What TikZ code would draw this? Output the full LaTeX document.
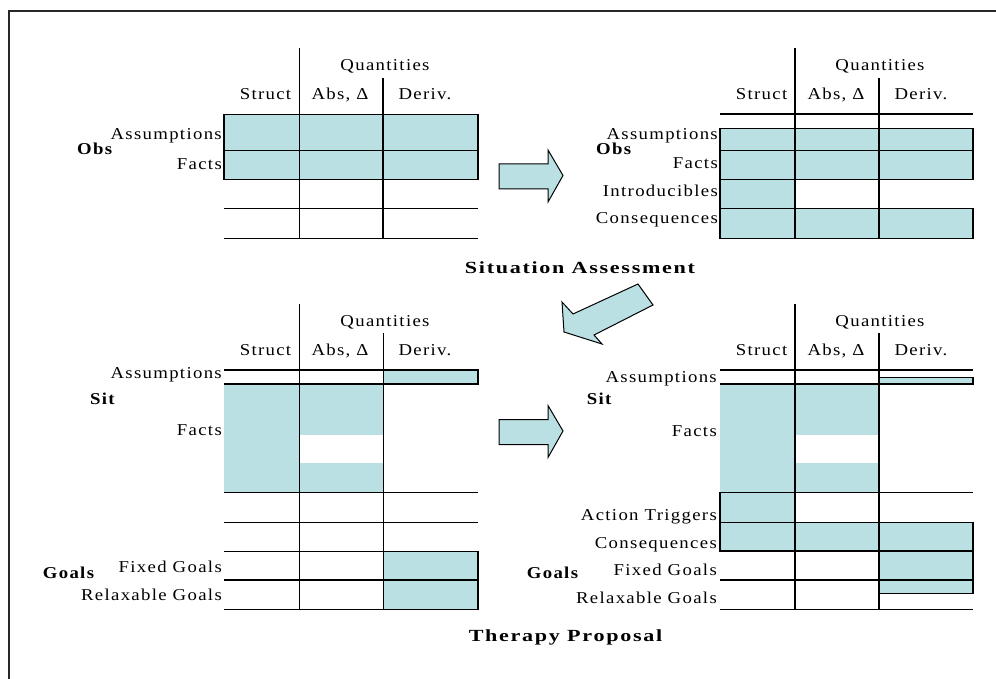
\documentclass[tikz,border=0pt]{standalone}
\usepackage{fontspec}
\setmainfont[FakeStretch=1.13, LetterSpace=8]{Liberation Serif}
\newfontfamily\titlefont[FakeStretch=1.3, LetterSpace=10]{Liberation Serif}
\definecolor{cellblue}{RGB}{187,224,227}
\definecolor{framegray}{RGB}{40,40,40}

\tikzset{
  grid/.style={line width=1.1pt, draw=black},
  cell/.style={fill=cellblue, draw=black, line width=1.1pt},
  bare/.style={fill=cellblue, draw=none},
  blockarrow/.style={fill=cellblue, draw=black, line width=1pt, line join=miter},
  rowlabel/.style={anchor=base east, inner sep=0pt, font=\fontsize{16.6}{19}\selectfont},
  collabel/.style={anchor=base, inner sep=0pt, font=\fontsize{16.6}{19}\selectfont},
  grouplabel/.style={anchor=base west, inner sep=0pt, font=\fontsize{16.6}{19}\selectfont\bfseries},
  stagetitle/.style={anchor=base, inner sep=0pt, font=\fontsize{17}{20}\selectfont\titlefont\bfseries},
}

\begin{document}
\begin{tikzpicture}[x=1pt, y=-1pt]
\useasboundingbox (0,0) rectangle (996,679);

% outer frame (top and left edges)
\draw[framegray, line width=2pt] (9.3,679) -- (9.3,11.3) -- (996,11.3);

% ---------- Observations, before assessment ----------
\draw[cell] (224,114.3) rectangle (478,179.3);
\draw[grid] (224,150.3) -- (478,150.3);
\draw[grid] (224,208.3) -- (478,208.3);
\draw[grid] (224,238.3) -- (478,238.3);
\draw[grid] (299.3,48) -- (299.3,238.3);
\draw[grid] (383,78) -- (383,238.3);

\node[collabel] (q1) at (385,71) {Quantities};
\node[collabel] (s1) at (265.5,100) {Struct};
\node[collabel] (a1) at (340,100) {Abs, Δ};
\node[collabel] (d1) at (425,100) {Deriv.};
\node[rowlabel] (as1) at (222,140) {Assumptions};
\node[rowlabel] (f1) at (222,169.3) {Facts};
\node[grouplabel] (obs1) at (77,155) {Obs};

% ---------- Observations, after assessment ----------
\draw[grid] (720,114) -- (973,114);
\draw[cell] (720,128.3) rectangle (973,179.3);
\draw[grid] (720,150.3) -- (973,150.3);
\draw[cell] (720,179.3) rectangle (795,208.3);
\draw[cell] (720,208.3) rectangle (973,238.3);
\draw[grid] (795,48) -- (795,238.3);
\draw[grid] (879,78) -- (879,238.3);

\node[collabel] (q2) at (880,71) {Quantities};
\node[collabel] (s2) at (761.5,100) {Struct};
\node[collabel] (a2) at (836,100) {Abs, Δ};
\node[collabel] (d2) at (921,100) {Deriv.};
\node[rowlabel] (as2) at (718,140) {Assumptions};
\node[rowlabel] (f2) at (718,168.3) {Facts};
\node[rowlabel] (in2) at (718,196.7) {Introducibles};
\node[rowlabel] (co2) at (718,224) {Consequences};
\node[grouplabel] (obs2) at (596,154.3) {Obs};

% arrow between the two observation tables
\draw[blockarrow] (499,164) -- (548,164) -- (548,150) -- (563,175.5)
  -- (548,202) -- (548,189) -- (499,189) -- cycle;

\node[stagetitle] (sa) at (580,273) {Situation Assessment};

% diagonal arrow down to the situation tables
\draw[blockarrow] (564,332) -- (562,302) -- (573,314) -- (638,284)
  -- (653,305) -- (594,335) -- (602,344) -- cycle;

% ---------- Situation, before proposal ----------
\fill[bare] (224.3,384) rectangle (299.3,492.7);
\fill[bare] (299.3,384) rectangle (383.3,435);
\fill[bare] (299.3,463.3) rectangle (383.3,492.7);
\draw[cell] (383.3,370) rectangle (478,384);
\draw[cell] (383.3,551.7) rectangle (478,609.3);
\foreach \yy in {370,384,492.7,522.3,551.7,580,609.3}
  \draw[grid] (224.3,\yy) -- (478,\yy);
\draw[grid] (299.3,304) -- (299.3,609.3);
\draw[grid] (383.3,333.3) -- (383.3,609.3);

\node[collabel] (q3) at (385,326) {Quantities};
\node[collabel] (s3) at (265.5,355) {Struct};
\node[collabel] (a3) at (340,355) {Abs, Δ};
\node[collabel] (d3) at (425,355) {Deriv.};
\node[rowlabel] (as3) at (222,378.3) {Assumptions};
\node[rowlabel] (f3) at (222,435) {Facts};
\node[rowlabel] (fg3) at (222,572.7) {Fixed Goals};
\node[rowlabel] (rg3) at (222,600.7) {Relaxable Goals};
\node[grouplabel] (sit3) at (90,404.3) {Sit};
\node[grouplabel] (go3) at (42.7,578.7) {Goals};

% arrow between the two situation tables
\draw[blockarrow] (499,419.5) -- (548,419.5) -- (548,405.5) -- (563,431)
  -- (548,457.5) -- (548,444.5) -- (499,444.5) -- cycle;

% ---------- Situation, after proposal ----------
\fill[bare] (720,384) rectangle (795,492.7);
\fill[bare] (795,384) rectangle (879,435);
\fill[bare] (795,463.3) rectangle (879,492.7);
\draw[cell] (879,377.3) rectangle (973,384);
\draw[cell] (720,492.7) rectangle (795,522.3);
\draw[cell] (720,522.3) rectangle (973,551);
\draw[cell] (879,551) rectangle (973,580);
\draw[cell] (879,580) rectangle (973,593.3);
\foreach \yy in {370,384,492.7,580,609.3}
  \draw[grid] (720,\yy) -- (973,\yy);
\draw[grid] (795,304) -- (795,609.3);
\draw[grid] (879,333.3) -- (879,609.3);

\node[collabel] (q4) at (880,326) {Quantities};
\node[collabel] (s4) at (761.5,355) {Struct};
\node[collabel] (a4) at (836,355) {Abs, Δ};
\node[collabel] (d4) at (921,355) {Deriv.};
\node[rowlabel] (as4) at (717,382.3) {Assumptions};
\node[rowlabel] (f4) at (717,436.7) {Facts};
\node[rowlabel] (at4) at (717,520) {Action Triggers};
\node[rowlabel] (co4) at (717,548.3) {Consequences};
\node[rowlabel] (fg4) at (717,575) {Fixed Goals};
\node[rowlabel] (rg4) at (717,603.3) {Relaxable Goals};
\node[grouplabel] (sit4) at (586.7,404.3) {Sit};
\node[grouplabel] (go4) at (526.7,578.7) {Goals};

\node[stagetitle] (tp) at (565.5,641) {Therapy Proposal};

\end{tikzpicture}
\end{document}
